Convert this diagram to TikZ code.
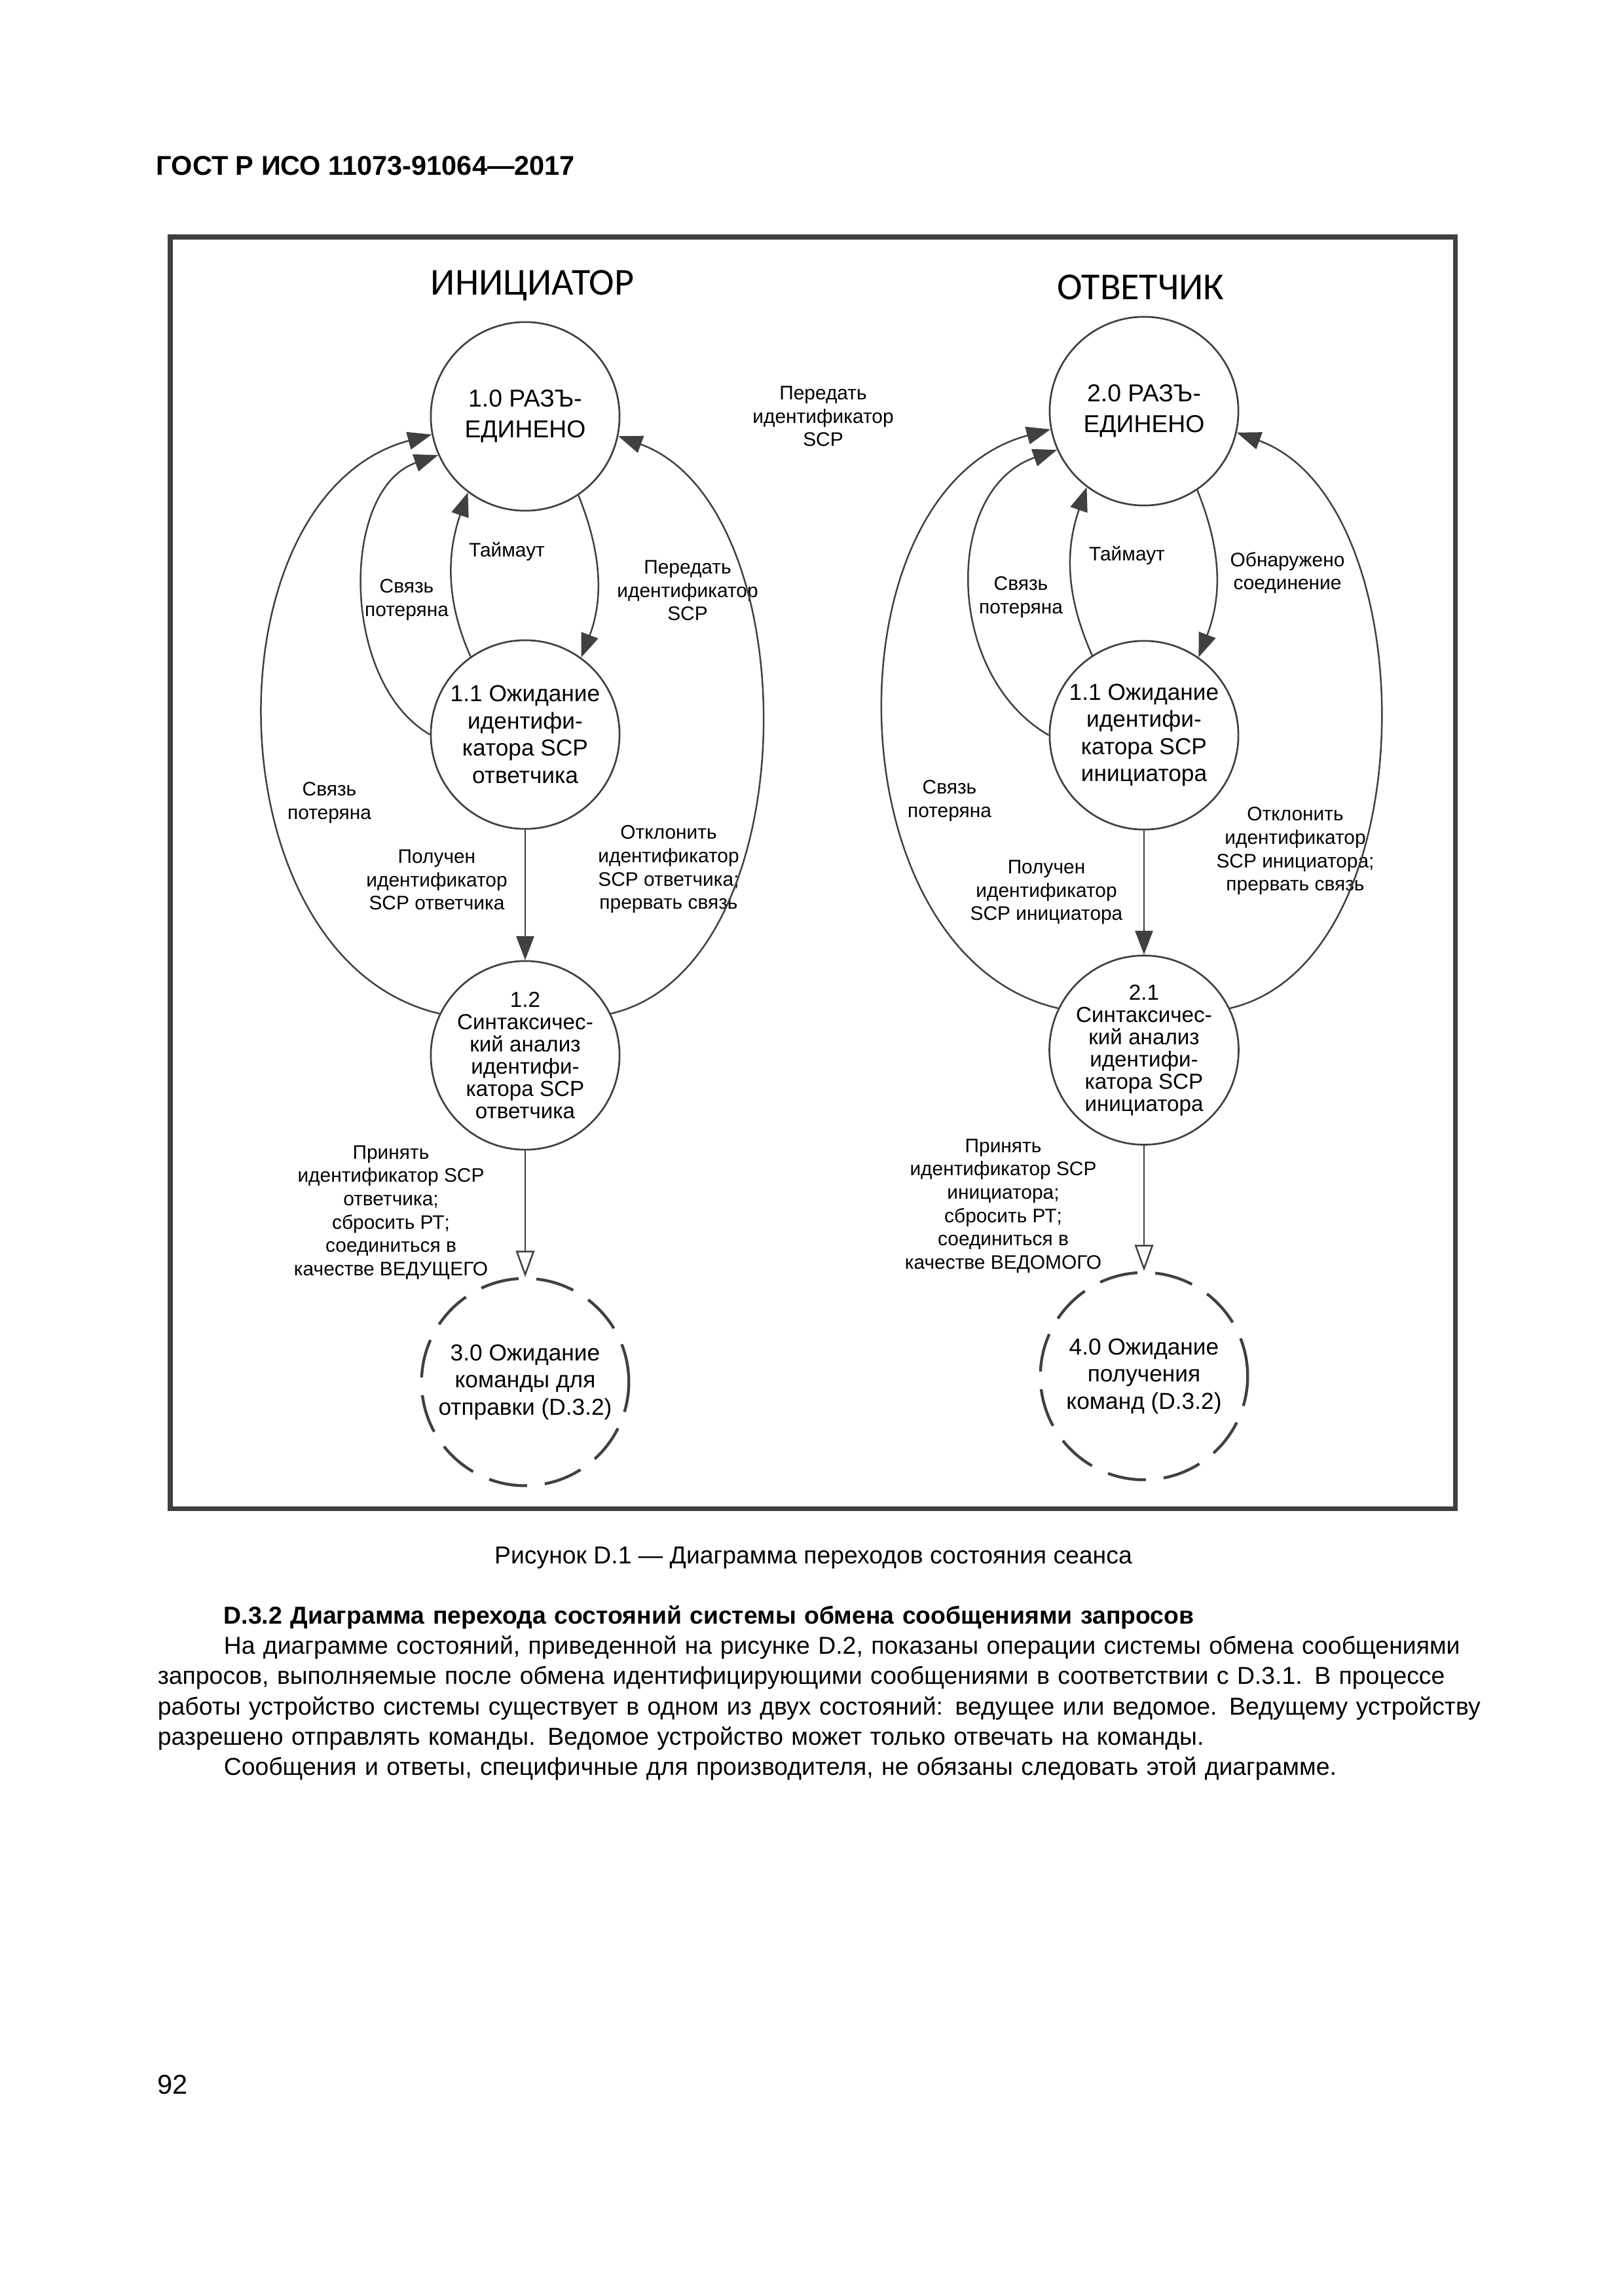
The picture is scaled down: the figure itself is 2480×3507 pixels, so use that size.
\documentclass[tikz,border=0pt]{standalone}
\usepackage{fontspec}
\setmainfont{Liberation Sans}
\newfontfamily\headfont{Carlito}
\usetikzlibrary{arrows.meta}
\definecolor{linec}{HTML}{404040}
\tikzset{
  st/.style={circle, draw=linec, line width=0.65pt, minimum size=24.4mm, inner sep=0pt,
             align=center, font=\fontsize{8.5}{10}\selectfont},
  st0/.style={st, font=\fontsize{9}{11.3}\selectfont},
  st2/.style={st, font=\fontsize{8}{8.2}\selectfont},
  waitst/.style={st, minimum size=26.8mm, line width=1.05pt, dash pattern=on 5mm off 2.3mm},
  lbl/.style={font=\fontsize{7.2}{8.6}\selectfont, align=center, inner sep=0pt},
  ttl/.style={font=\headfont\fontsize{14}{16}\selectfont, inner sep=0pt},
  arr/.style={draw=linec, line width=0.6pt, -{Triangle[length=3.1mm, width=2.3mm]}},
  oarr/.style={draw=linec, line width=0.6pt, -{Triangle[open, length=3.4mm, width=2.4mm]}},
}

\begin{document}
\begin{tikzpicture}[x=0.084677mm, y=-0.084677mm]
  \useasboundingbox (0,0) rectangle (2480,3507);

  \node[anchor=base west, inner sep=0pt, font=\bfseries] (hdr) at (238,267) {ГОСТ Р ИСО 11073-91064—2017};
  \draw[linec, line width=1.7pt] (260,362) rectangle (2222,2304);

  \node[ttl] (tini) at (813,436) {ИНИЦИАТОР};
  \node[ttl] (tresp) at (1742,439) {ОТВЕТЧИК};

  % initiator
  \node[st0] (c10) at (802,636) {1.0 РАЗЪ-\\ЕДИНЕНО};
  \node[st] (c11) at (802,1122) {1.1 Ожидание\\идентифи-\\катора SCP\\ответчика};
  \node[st2] (c12) at (802,1612) {1.2\\Синтаксичес-\\кий анализ\\идентифи-\\катора SCP\\ответчика};
  \node[waitst] (c30) at (802,2111) {3.0 Ожидание\\команды для\\отправки (D.3.2)};

  % responder
  \node[st0] (c20) at (1747,628) {2.0 РАЗЪ-\\ЕДИНЕНО};
  \node[st] (c11r) at (1747,1123) {1.1 Ожидание\\идентифи-\\катора SCP\\инициатора};
  \node[st2] (c21) at (1747,1604) {2.1\\Синтаксичес-\\кий анализ\\идентифи-\\катора SCP\\инициатора};
  \node[waitst] (c40) at (1747,2102) {4.0 Ожидание\\получения\\команд (D.3.2)};

  \node[lbl] (lsend) at (1257,636) {Передать\\идентификатор\\SCP};

  \node[lbl] (lto1) at (774,842) {Таймаут};
  \node[lbl] (llost1) at (621,916) {Связь\\потеряна};
  \node[lbl] (lsend1) at (1050,902) {Передать\\идентификатор\\SCP};
  \node[lbl] (lout1) at (503,1226) {Связь\\потеряна};
  \node[lbl] (lgot1) at (667,1344) {Получен\\идентификатор\\SCP ответчика};
  \node[lbl] (lrej1) at (1021,1328) {Отклонить\\идентификатор\\SCP ответчика;\\прервать связь};
  \node[lbl] (lacc1) at (597,1852) {Принять\\идентификатор SCP\\ответчика;\\сбросить РТ;\\соединиться в\\качестве ВЕДУЩЕГО};

  \node[lbl] (lto2) at (1721,848) {Таймаут};
  \node[lbl] (llost2) at (1559,912) {Связь\\потеряна};
  \node[lbl] (ldet2) at (1966,875) {Обнаружено\\соединение};
  \node[lbl] (lout2) at (1450,1223) {Связь\\потеряна};
  \node[lbl] (lgot2) at (1598,1363) {Получен\\идентификатор\\SCP инициатора};
  \node[lbl] (lrej2) at (1978,1300) {Отклонить\\идентификатор\\SCP инициатора;\\прервать связь};
  \node[lbl] (lacc2) at (1532,1842) {Принять\\идентификатор SCP\\инициатора;\\сбросить РТ;\\соединиться в\\качестве ВЕДОМОГО};

  \draw[arr] (c12.154) to[out=167, in=195, looseness=1.04] (c10.191);
  \draw[arr] (c11.180) to[out=150, in=199, looseness=0.95] (c10.204);
  \draw[arr] (c11.125) to[out=114, in=251, looseness=0.98] (c10.233);
  \draw[arr] (c10.304) to[out=-68, in=69, looseness=0.98] (c11.54);
  \draw[arr] (c12.26) to[out=13, in=-20, looseness=0.9] (c10.348);
  \draw[arr] (c11) -- (c12);
  \draw[oarr] (c12) -- (c30);

  \draw[arr] (c21.154) to[out=167, in=195, looseness=1.03] (c20.191);
  \draw[arr] (c11r.180) to[out=150, in=199, looseness=1.08] (c20.204);
  \draw[arr] (c11r.123) to[out=114, in=251, looseness=1.0] (c20.233);
  \draw[arr] (c20.304) to[out=-68, in=69, looseness=1.0] (c11r.55);
  \draw[arr] (c21.26) to[out=13, in=-20, looseness=0.9] (c20.347);
  \draw[arr] (c11r) -- (c21);
  \draw[oarr] (c21) -- (c40);

  \node[font=\fontsize{9}{11}\selectfont] (cap) at (1242,2379) {Рисунок D.1 — Диаграмма переходов состояния сеанса};

  \node[anchor=base west, text width=170mm, align=left, inner sep=0pt,
        font=\fontsize{9}{11.17}\selectfont] (body) at (240,2480)
    {\hspace*{8.55mm}\textbf{D.3.2 Диаграмма перехода состояний системы обмена сообщениями запросов}\\
     \hspace*{8.55mm}\makebox[161.45mm][s]{На диаграмме состояний, приведенной на рисунке D.2, показаны операции системы обмена сообщениями}\\
     \makebox[170mm][s]{запросов, выполняемые после обмена идентифицирующими сообщениями в соответствии с D.3.1. В процессе}\\
     \makebox[170mm][s]{работы устройство системы существует в одном из двух состояний: ведущее или ведомое. Ведущему устройству}\\
     разрешено отправлять команды. Ведомое устройство может только отвечать на команды.\\
     \hspace*{8.55mm}Сообщения и ответы, специфичные для производителя, не обязаны следовать этой диаграмме.};

  \node[anchor=west, inner sep=0pt] (pg) at (240,3184) {92};
\end{tikzpicture}
\end{document}
